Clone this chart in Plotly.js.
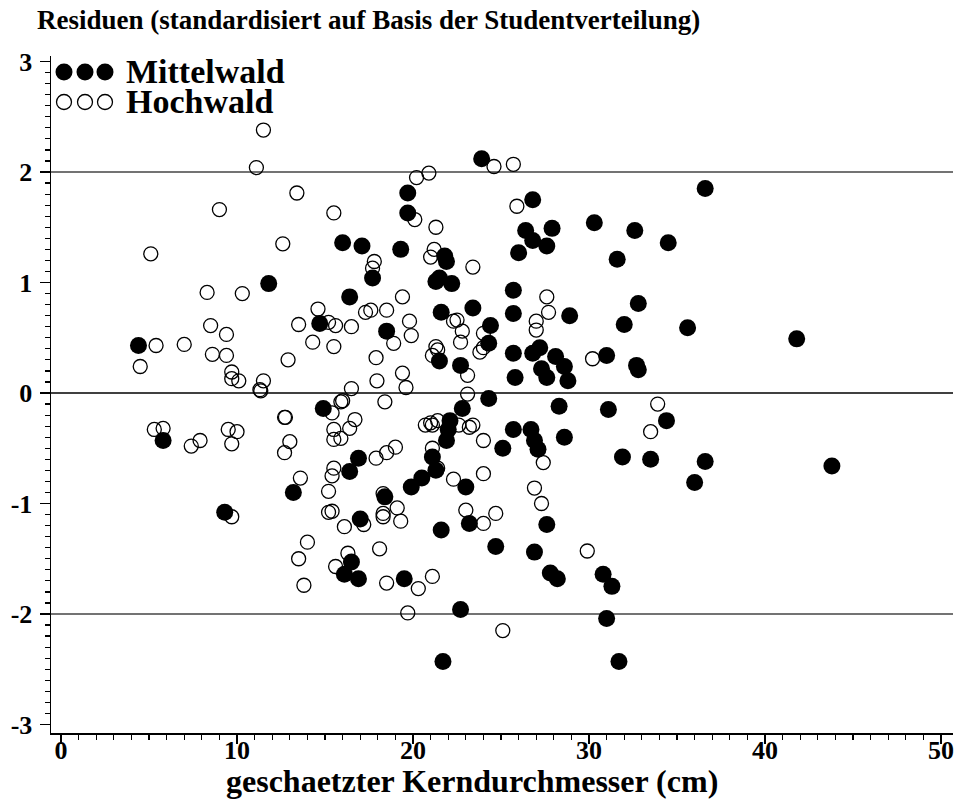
<!DOCTYPE html>
<html>
<head>
<meta charset="utf-8">
<script src="https://cdn.plot.ly/plotly-3.0.1.min.js"></script>
<style>
html,body{margin:0;padding:0;background:#fff;}
#chart{width:959px;height:801px;}
</style>
</head>
<body>
<div id="chart"></div>
<script>
// Mittelwald (filled circles): estimated core diameter (cm) and standardized residual
const mittelX = [4.4,5.8,9.3,11.8,13.2,14.7,14.9,16.0,17.1,17.7,16.4,18.5,16.9,16.4,18.4,17.0,16.5,16.1,16.9,
  23.9,19.7,19.7,19.3,21.8,21.9,26.4,26.0,21.3,21.5,22.2,25.7,23.4,21.6,25.7,24.4,24.3,21.5,22.7,25.7,26.8,
  25.8,24.3,22.8,22.1,22.0,21.9,21.1,21.3,20.5,19.9,23.0,25.7,25.1,26.7,23.2,21.6,24.7,19.5,22.7,21.7,
  26.8,27.9,26.8,27.6,30.3,28.9,27.2,28.1,27.3,28.6,27.6,28.8,31.0,36.6,32.6,34.5,31.6,32.8,32.0,35.6,
  41.8,32.7,32.8,31.1,34.4,31.9,33.5,36.6,36.0,43.8,30.8,31.3,31.0,31.7,28.3,26.9,27.1,28.6,27.6,26.9,27.8,28.2];
const mittelY = [0.43,-0.43,-1.08,0.99,-0.90,0.63,-0.14,1.36,1.33,1.04,0.87,0.56,-0.59,-0.71,-0.94,-1.14,-1.53,-1.64,-1.68,
  2.12,1.81,1.63,1.30,1.24,1.19,1.47,1.27,1.01,1.04,0.99,0.93,0.77,0.73,0.72,0.61,0.45,0.29,0.25,0.36,0.36,
  0.14,-0.05,-0.14,-0.25,-0.33,-0.43,-0.58,-0.70,-0.77,-0.85,-0.85,-0.33,-0.50,-0.33,-1.18,-1.24,-1.39,-1.68,-1.96,-2.43,
  1.75,1.49,1.38,1.33,1.54,0.70,0.41,0.33,0.22,0.24,0.14,0.11,0.34,1.85,1.47,1.36,1.21,0.81,0.62,0.59,
  0.49,0.25,0.21,-0.15,-0.25,-0.58,-0.60,-0.62,-0.81,-0.66,-1.64,-1.75,-2.04,-2.43,-0.12,-0.43,-0.51,-0.40,-1.19,-1.44,-1.63,-1.68];

// Hochwald (open circles)
const hochX = [11.5,11.1,13.4,9.0,15.5,12.6,5.1,8.3,10.3,14.6,15.2,15.6,13.5,8.5,9.4,14.3,15.5,5.4,7.0,8.6,
  9.4,12.9,4.5,9.7,9.7,10.1,11.5,11.3,11.35,5.3,5.8,7.9,7.4,9.5,10.0,9.7,12.7,12.75,13.0,12.7,
  13.6,15.2,15.2,15.4,15.4,15.5,15.5,15.5,15.4,9.7,14.0,13.5,13.8,15.6,16.1,15.9,17.8,17.7,16.5,17.3,
  17.6,18.5,17.9,17.95,16.5,16.0,18.4,18.9,24.6,25.7,20.9,20.2,20.1,25.9,21.3,21.2,21.0,23.4,19.4,19.8,
  19.9,22.3,22.5,22.8,22.7,24.0,23.8,24.0,21.3,21.4,21.1,23.1,19.4,19.6,23.1,27.6,27.7,27.0,27.0,30.2,
  16.4,16.7,15.9,17.9,18.5,19.0,20.7,21.0,21.1,21.4,21.1,21.4,22.6,23.2,23.4,24.0,22.3,24.0,18.3,17.2,
  18.3,18.3,19.1,19.3,23.0,24.0,24.7,26.9,27.4,27.3,16.3,18.1,18.5,20.3,21.1,19.7,25.1,29.9,33.9,33.5];
const hochY = [2.38,2.04,1.81,1.66,1.63,1.35,1.26,0.91,0.90,0.76,0.64,0.61,0.62,0.61,0.53,0.46,0.42,0.43,0.44,0.35,
  0.34,0.30,0.24,0.19,0.13,0.11,0.11,0.03,0.02,-0.33,-0.32,-0.43,-0.48,-0.33,-0.35,-0.46,-0.22,-0.22,-0.44,-0.54,
  -0.77,-0.89,-1.08,-1.07,-0.18,-0.33,-0.42,-0.68,-0.75,-1.12,-1.35,-1.50,-1.74,-1.57,-1.21,-0.08,1.19,1.13,0.60,0.73,
  0.75,0.75,0.32,0.11,0.04,-0.07,-0.08,0.45,2.05,2.07,1.99,1.95,1.57,1.69,1.50,1.30,1.23,1.14,0.87,0.65,
  0.52,0.65,0.66,0.56,0.46,0.54,0.37,0.41,0.42,0.39,0.34,0.16,0.18,0.05,-0.01,0.87,0.73,0.65,0.57,0.31,
  -0.32,-0.24,-0.41,-0.59,-0.54,-0.49,-0.29,-0.27,-0.29,-0.25,-0.50,-0.68,-0.29,-0.31,-0.29,-0.43,-0.78,-0.73,-0.91,-1.19,
  -1.12,-1.09,-1.04,-1.16,-1.06,-1.18,-1.09,-0.86,-0.63,-1.00,-1.45,-1.41,-1.72,-1.77,-1.66,-1.99,-2.15,-1.43,-0.10,-0.35];

const seriesNames = ["Mittelwald", "Hochwald"];
const refLines = [-2, 0, 2];
const xTickVals = [0, 10, 20, 30, 40, 50];
const xTickLabels = ["0", "10", "20", "30", "40", "50"];
const yTickVals = [-3, -2, -1, 0, 1, 2, 3];
const yTickLabels = ["-3", "-2", "-1", "0", "1", "2", "3"];
const titleText = "Residuen (standardisiert auf Basis der Studentverteilung)";
const xTitleText = "geschaetzter Kerndurchmesser (cm)";

const FONT = "Liberation Serif, Times New Roman, serif";
const bold = s => "<b>" + s + "</b>";

const traces = [
  {x: hochX, y: hochY, type: "scatter", mode: "markers", name: seriesNames[1],
   marker: {symbol: "circle-open", size: 14, color: "#000", line: {width: 1.3, color: "#000"}},
   showlegend: false, hoverinfo: "skip"},
  {x: mittelX, y: mittelY, type: "scatter", mode: "markers", name: seriesNames[0],
   marker: {symbol: "circle", size: 17, color: "#000", line: {width: 0}},
   showlegend: false, hoverinfo: "skip"}
];

// plot area geometry helpers (paper coords)
const L = 51, R = 6, T = 56, B = 68, W = 959, H = 801;
const pw = W - L - R, ph = H - T - B;
const px = v => (v - L) / pw;
const py = v => (H - B - v) / ph;

const shapes = refLines.map(v => ({
  type: "line", xref: "paper", x0: 0, x1: 1, yref: "y", y0: v, y1: v,
  line: {color: v === 0 ? "#000" : "#444", width: 1.3}, layer: "below"
}));

// legend markers: three circles per series
[64, 85, 105].forEach(cx => {
  shapes.push({type: "circle", xref: "paper", yref: "paper", xsizemode: "pixel", ysizemode: "pixel",
    xanchor: px(cx), yanchor: py(72), x0: -8.5, x1: 8.5, y0: -8.5, y1: 8.5,
    fillcolor: "#000", line: {color: "#000", width: 0}});
  shapes.push({type: "circle", xref: "paper", yref: "paper", xsizemode: "pixel", ysizemode: "pixel",
    xanchor: px(cx), yanchor: py(102), x0: -7.5, x1: 7.5, y0: -7.5, y1: 7.5,
    fillcolor: "rgba(0,0,0,0)", line: {color: "#000", width: 1.3}});
});

const annotations = [
  {text: bold(seriesNames[0]), xref: "paper", yref: "paper", x: px(124), y: py(72), xanchor: "left", yanchor: "middle",
   showarrow: false, font: {family: FONT, size: 34, color: "#000"}},
  {text: bold(seriesNames[1]), xref: "paper", yref: "paper", x: px(124), y: py(102), xanchor: "left", yanchor: "middle",
   showarrow: false, font: {family: FONT, size: 34, color: "#000"}},
  {text: bold(xTitleText), xref: "paper", yref: "paper", x: px(472), y: py(781), xanchor: "center", yanchor: "middle",
   showarrow: false, font: {family: FONT, size: 32, color: "#000"}}
];

const layout = {
  width: W, height: H,
  margin: {l: L, r: R, t: T, b: B, pad: 0},
  paper_bgcolor: "#fff", plot_bgcolor: "#fff",
  showlegend: false,
  title: {text: bold(titleText), x: 37 / W, xanchor: "left", xref: "container",
          y: 1 - 20 / H, yanchor: "middle", yref: "container",
          font: {family: FONT, size: 27, color: "#000"}},
  xaxis: {range: [-0.57, 50.68], showgrid: false, zeroline: false,
          showline: true, linecolor: "#000", linewidth: 1.5,
          ticks: "outside", ticklen: 9, tickwidth: 1.3, tickcolor: "#000",
          tickmode: "array", tickvals: xTickVals, ticktext: xTickLabels,
          minor: {dtick: 1, tick0: 0, ticklen: 5, tickwidth: 1.2, tickcolor: "#000", ticks: "outside", showgrid: false},
          tickfont: {family: FONT, size: 26, color: "#000", weight: "bold"},
          ticklabelstandoff: -16},
  yaxis: {range: [-3.077, 3.05], showgrid: false, zeroline: false,
          showline: true, linecolor: "#000", linewidth: 1.5,
          ticks: "outside", ticklen: 10, tickwidth: 1.3, tickcolor: "#000",
          tickmode: "array", tickvals: yTickVals, ticktext: yTickLabels,
          minor: {dtick: 0.1, tick0: 0, ticklen: 5, tickwidth: 1.2, tickcolor: "#000", ticks: "outside", showgrid: false},
          tickfont: {family: FONT, size: 26, color: "#000", weight: "bold"},
          ticklabelstandoff: 2},
  shapes: shapes,
  annotations: annotations
};

Plotly.newPlot("chart", traces, layout, {staticPlot: true, displayModeBar: false});
</script>
</body>
</html>
